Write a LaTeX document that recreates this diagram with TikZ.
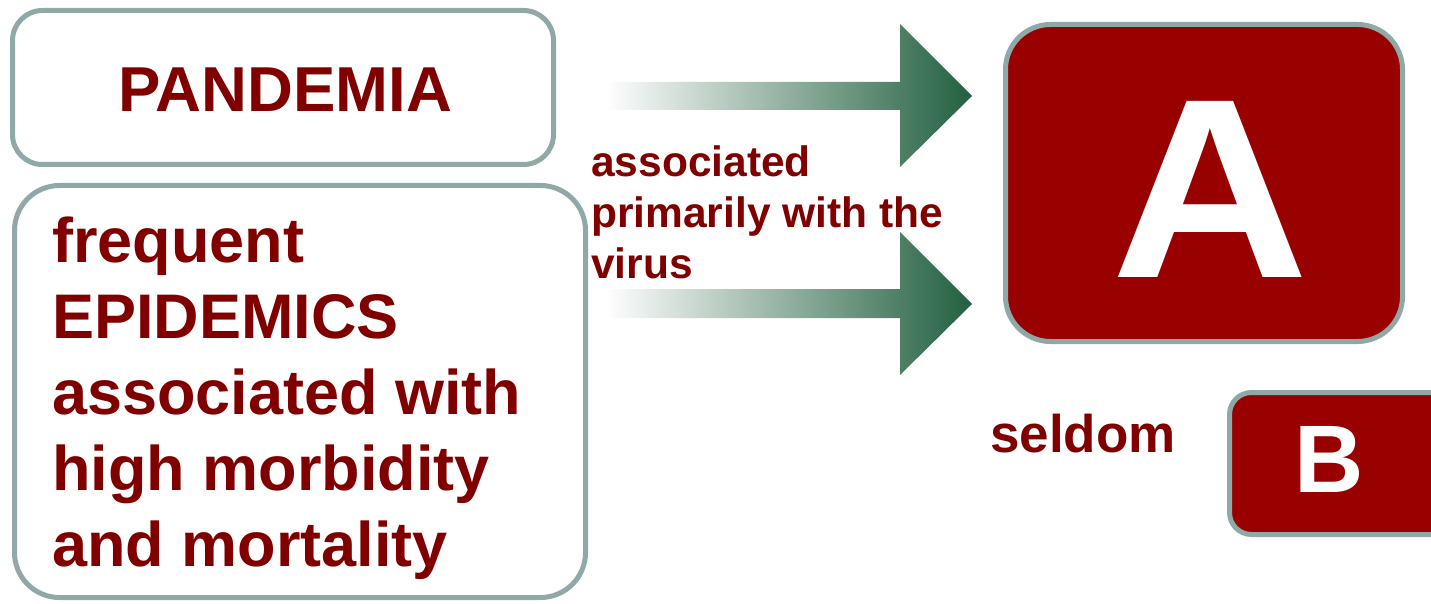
\documentclass[tikz,border=0pt]{standalone}
\usepackage{fontspec}
\setmainfont{Liberation Sans}
\definecolor{maroontext}{HTML}{800000}
\definecolor{boxred}{HTML}{990000}
\definecolor{edgegrey}{HTML}{8FA8A8}
\definecolor{arrowgreen}{HTML}{22603F}
\begin{document}
\begin{tikzpicture}[x=1pt,y=-1pt,
  panel/.style={draw=edgegrey, line width=5pt, fill=white, rectangle, inner sep=0pt},
  redpanel/.style={draw=edgegrey, line width=5pt, fill=boxred, rectangle, inner sep=0pt},
  maintext/.style={text=maroontext, font=\bfseries\fontsize{63}{76}\selectfont, inner sep=0pt, anchor=base west},
  smalltext/.style={text=maroontext, font=\bfseries\fontsize{42.5}{50}\selectfont, inner sep=0pt, anchor=base west},
  bigarrow/.style={left color=white, right color=arrowgreen, shading angle=90}
]
\useasboundingbox (0,0) rectangle (1431,604);
\begin{scope}
\clip (0,0) rectangle (1431,604);
% boxes
\node[panel, rounded corners=30pt, minimum width=541pt, minimum height=154pt] (pan) at (283,87.5) {};
\node[panel, rounded corners=45pt, minimum width=571pt, minimum height=412pt] (epi) at (300,391.5) {};
\node[redpanel, rounded corners=45pt, minimum width=397pt, minimum height=317pt] (boxA) at (1204,183) {};
\node[redpanel, rounded corners=22pt, minimum width=240pt, minimum height=142pt] (boxB) at (1349.5,463.5) {};
\end{scope}
% texts
\node[text=maroontext, font=\bfseries\fontsize{63.5}{76}\selectfont, inner sep=0pt, anchor=base] (pantext) at (285,112) {PANDEMIA};
\node[maintext] (e1) at (52,262) {frequent};
\node[maintext] (e2) at (52,338) {EPIDEMICS};
\node[maintext] (e3) at (52,414) {associated with};
\node[maintext] (e4) at (52,490) {high morbidity};
\node[maintext] (e5) at (52,566) {and mortality};
\node[smalltext] (v1) at (591,177) {associated};
\node[smalltext] (v2) at (591,227) {primarily with the};
\node[smalltext] (v3) at (591,278) {virus};
\node[text=white, font=\bfseries\fontsize{256}{256}\selectfont, inner sep=0pt, anchor=base, xscale=1.07] (letA) at (1210,277) {A};
\node[text=white, font=\bfseries\fontsize{96}{96}\selectfont, inner sep=0pt, anchor=base] (letB) at (1329,492) {B};
\node[text=maroontext, font=\bfseries\fontsize{53}{53}\selectfont, inner sep=0pt, anchor=base west] (seldom) at (990,452) {seldom};
% arrows
\coordinate (a1s) at (605,96);
\coordinate (a1e) at (972,96);
\coordinate (a2s) at (605,304);
\coordinate (a2e) at (972,304);
\shade[bigarrow] (a1s |- 0,82) -- (900,82) -- (900,24) -- (a1e) -- (900,167) -- (900,110) -- (a1s |- 0,110) -- cycle;
\shade[bigarrow] (a2s |- 0,289) -- (900,289) -- (900,232) -- (a2e) -- (900,375) -- (900,318) -- (a2s |- 0,318) -- cycle;
\end{tikzpicture}
\end{document}
